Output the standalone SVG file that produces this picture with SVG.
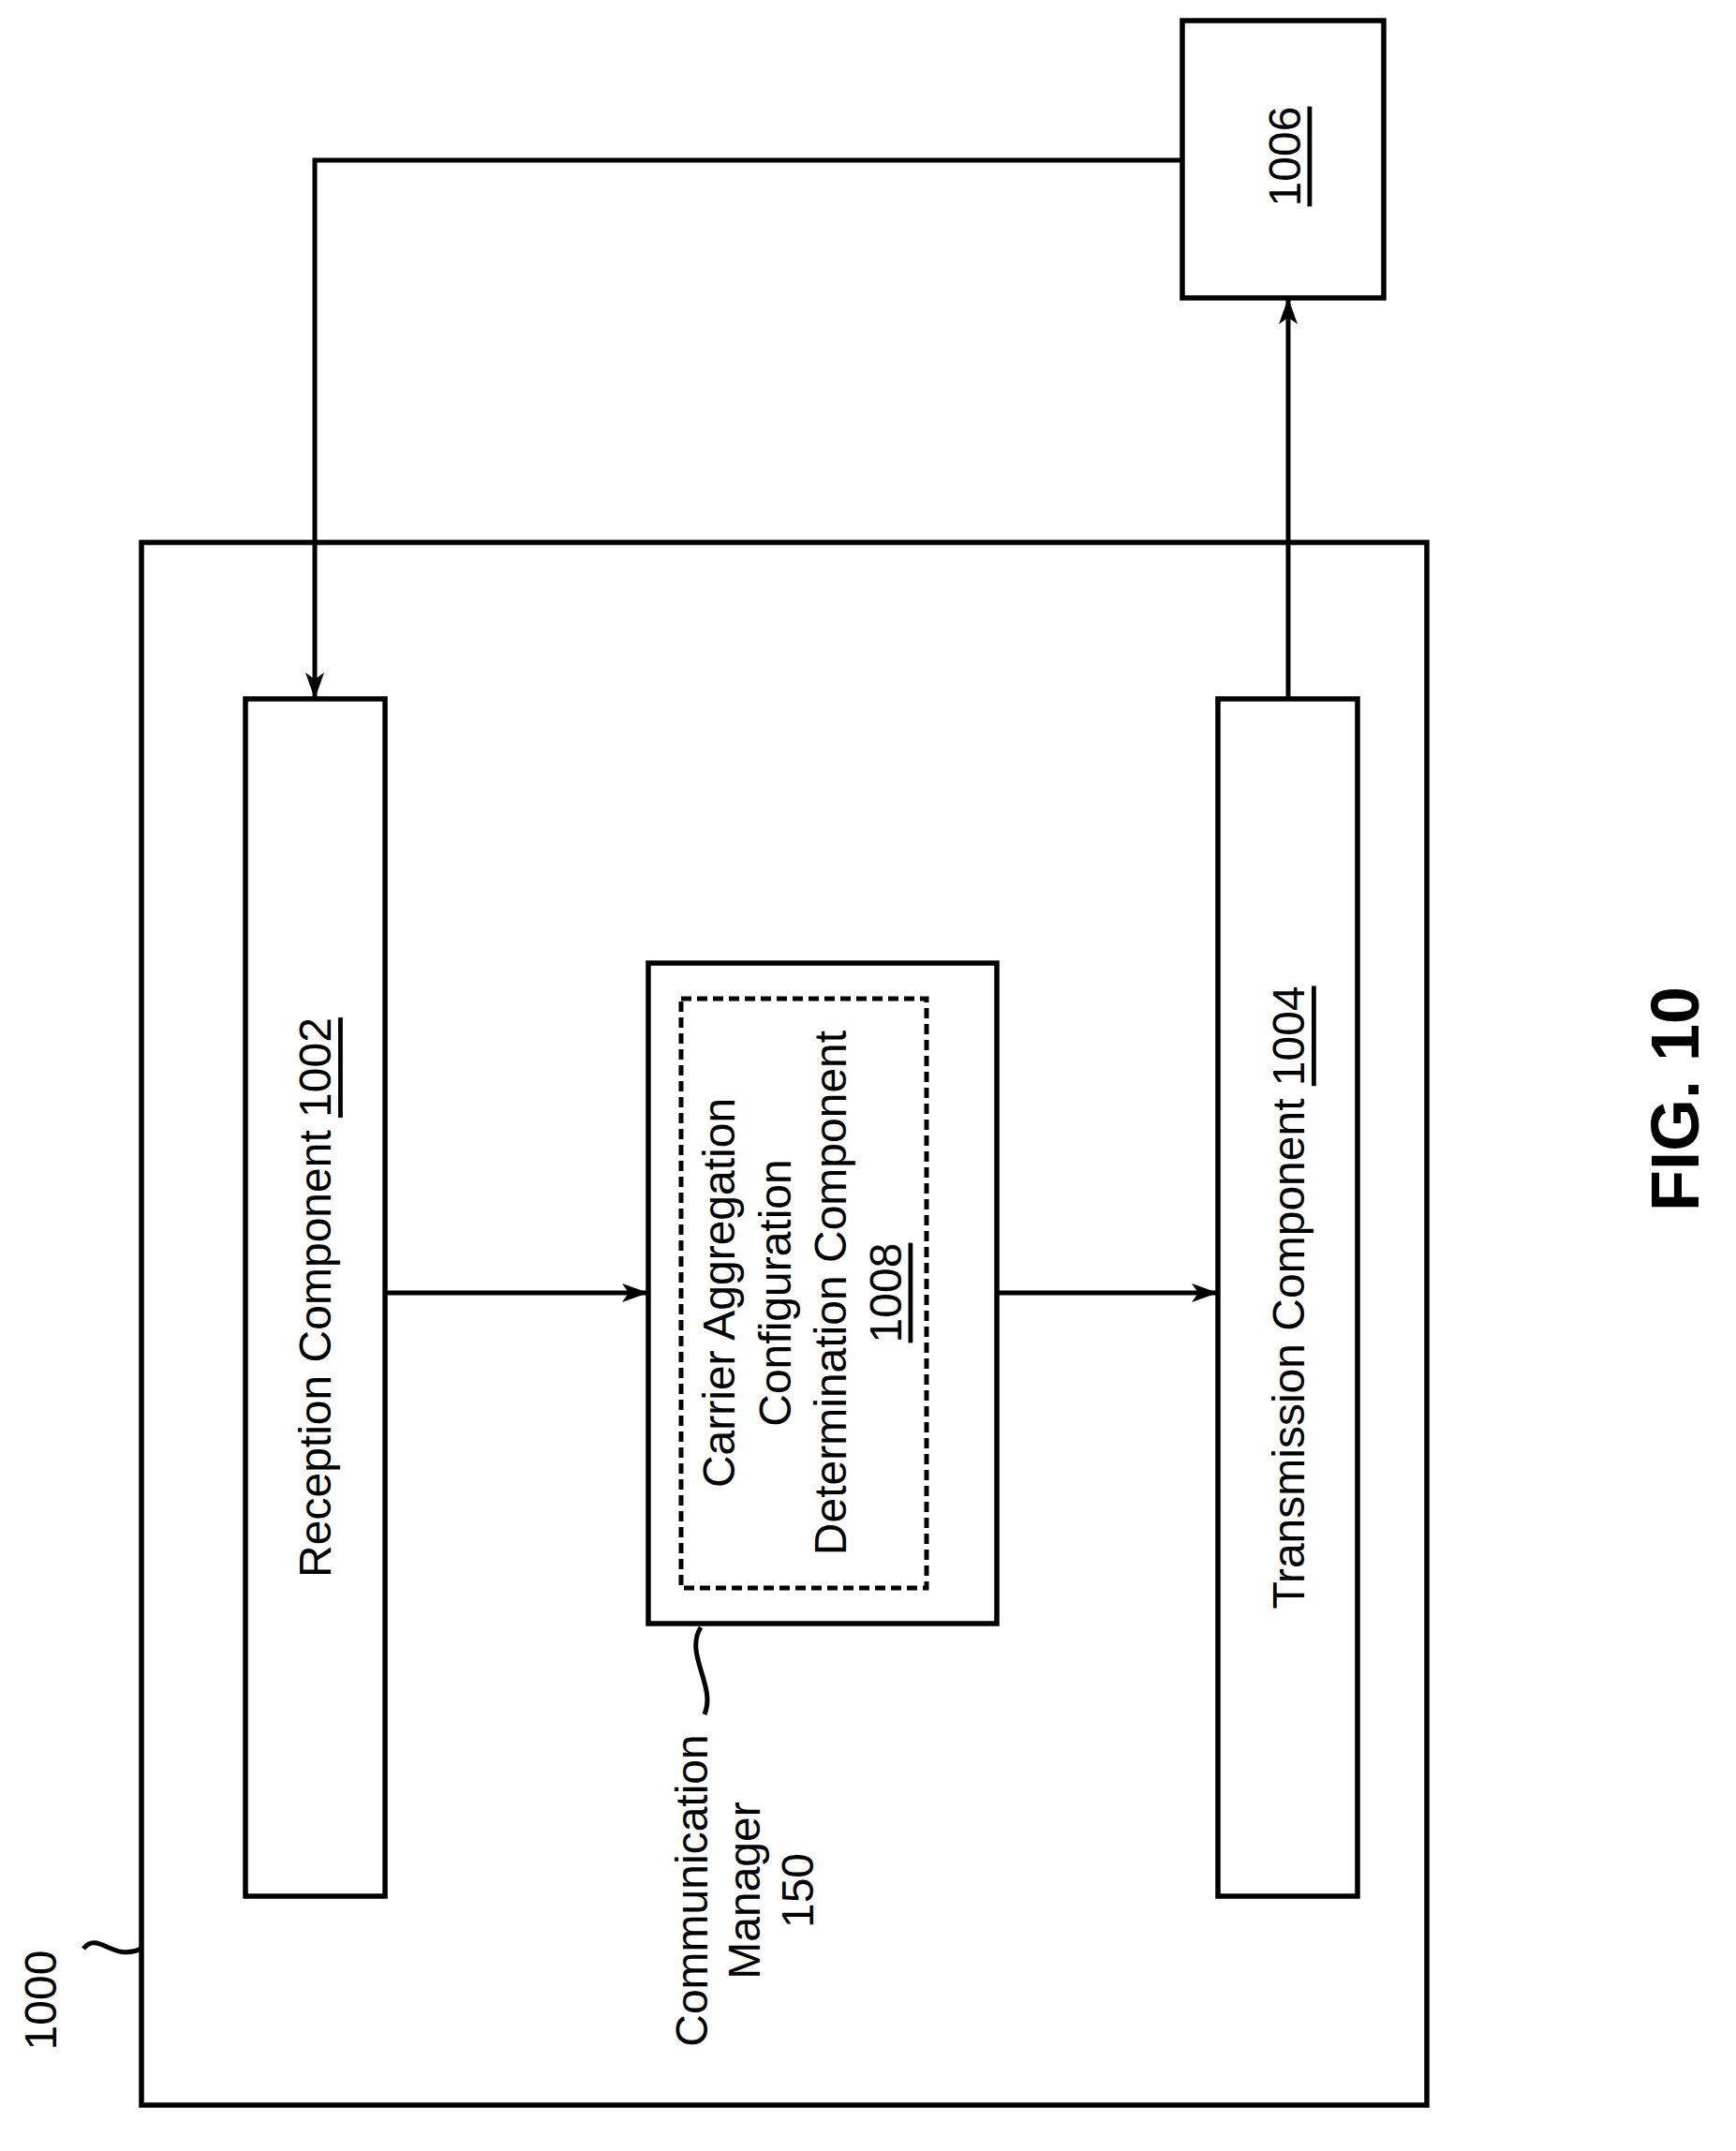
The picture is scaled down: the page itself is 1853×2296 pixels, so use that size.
<svg xmlns="http://www.w3.org/2000/svg" width="1853" height="2296" viewBox="0 0 1853 2296">
<defs>
<marker id="ah" viewBox="0 0 28 20" refX="28" refY="10" markerWidth="28" markerHeight="20" markerUnits="userSpaceOnUse" orient="auto"><path d="M0,0 L28,10 L0,20 L7,10 Z" fill="#000"/></marker>
<style>
.b{fill:#fff;stroke:#000;stroke-width:5.5}
.t{font-family:"Liberation Sans",Arial,sans-serif;font-size:48px;fill:#000;text-anchor:middle;dominant-baseline:central}
.u{text-decoration:underline}
.c{fill:none;stroke:#000;stroke-width:5}
</style>
</defs>
<rect width="1853" height="2296" fill="#fff"/>
<g id="device">
<rect class="b" x="151" y="579" width="1372" height="1668"/>
<text class="t" transform="translate(43,2135) rotate(-90)">1000</text>
<path class="c" d="M89,2080 C105,2060 120,2095 151,2080" stroke-width="4"/>
</g>
<g id="reception">
<rect class="b" x="262" y="746" width="149" height="1278"/>
<text class="t" transform="translate(336,1385) rotate(-90)">Reception Component <tspan class="u">1002</tspan></text>
</g>
<g id="transmission">
<rect class="b" x="1300" y="746" width="149" height="1278"/>
<text class="t" transform="translate(1375,1385) rotate(-90)">Transmission Component <tspan class="u">1004</tspan></text>
</g>
<g id="manager">
<rect class="b" x="692" y="1028" width="372" height="705"/>
<rect x="727" y="1066" width="262" height="629" fill="none" stroke="#000" stroke-width="5" stroke-dasharray="11,6"/>
<text class="t" transform="translate(767,1380) rotate(-90)">Carrier Aggregation</text>
<text class="t" transform="translate(827,1380) rotate(-90)">Configuration</text>
<text class="t" transform="translate(886,1380) rotate(-90)">Determination Component</text>
<text class="t u" transform="translate(945,1380) rotate(-90)">1008</text>
<path class="c" d="M748,1737 C730,1765 765,1800 752,1830" stroke-width="4"/>
<text class="t" transform="translate(738,2018) rotate(-90)">Communication</text>
<text class="t" transform="translate(794,2018) rotate(-90)">Manager</text>
<text class="t" transform="translate(851,2018) rotate(-90)">150</text>
</g>
<g id="n1006">
<rect class="b" x="1262" y="22" width="215" height="296"/>
<text class="t u" transform="translate(1371,167) rotate(-90)">1006</text>
</g>
<g id="connectors">
<path class="c" d="M1262,171 H336 V746" marker-end="url(#ah)"/>
<path class="c" d="M1375,746 V318" marker-end="url(#ah)"/>
<path class="c" d="M411,1380 H692" marker-end="url(#ah)"/>
<path class="c" d="M1064,1380 H1300" marker-end="url(#ah)"/>
</g>
<text font-family="Liberation Sans,Arial,sans-serif" font-weight="bold" font-size="72" text-anchor="middle" dominant-baseline="central" transform="translate(1788,1173) rotate(-90)">FIG. 10</text>
</svg>
